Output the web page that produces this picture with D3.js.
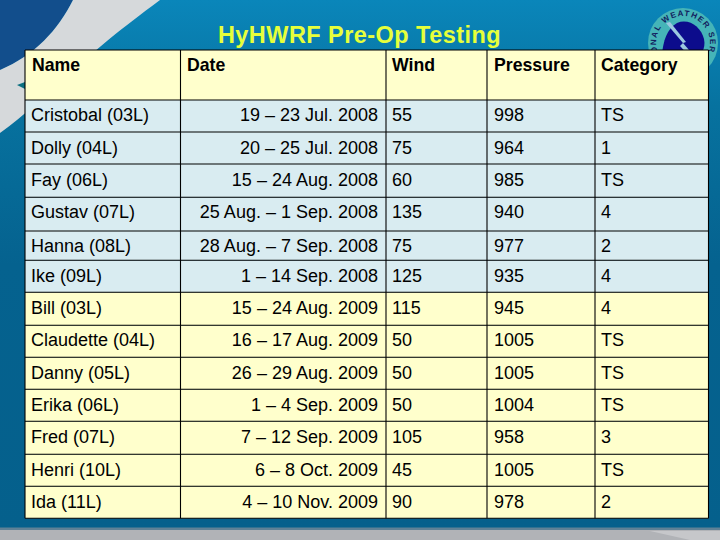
<!DOCTYPE html>
<html><head><meta charset="utf-8">
<script src="https://cdn.jsdelivr.net/npm/d3@7/dist/d3.min.js"></script>
<style>html,body{margin:0;padding:0;background:#fff}svg{display:block}text{font-family:"Liberation Sans",Arial,sans-serif}</style>
</head><body><svg id="c" width="720" height="540"></svg>
<script>
const title = "HyHWRF Pre-Op Testing";
const logoText = "ONAL WEATHER SER";
const columns = ["Name","Date","Wind","Pressure","Category"];
const names = ["Cristobal (03L)","Dolly (04L)","Fay (06L)","Gustav (07L)","Hanna (08L)","Ike (09L)","Bill (03L)","Claudette (04L)","Danny (05L)","Erika (06L)","Fred (07L)","Henri (10L)","Ida (11L)"];
const dates = ["19 – 23 Jul. 2008","20 – 25 Jul. 2008","15 – 24 Aug. 2008","25 Aug. – 1 Sep. 2008","28 Aug. – 7 Sep. 2008","1 – 14 Sep. 2008","15 – 24 Aug. 2009","16 – 17 Aug. 2009","26 – 29 Aug. 2009","1 – 4 Sep. 2009","7 – 12 Sep. 2009","6 – 8 Oct. 2009","4 – 10 Nov. 2009"];
const winds = [55,75,60,135,75,125,115,50,50,50,105,45,90];
const pressures = [998,964,985,940,977,935,945,1005,1005,1004,958,1005,978];
const categories = ["TS","1","TS","4","2","4","4","TS","TS","TS","3","TS","2"];
const years = [2008,2008,2008,2008,2008,2008,2009,2009,2009,2009,2009,2009,2009];

// layout (pixels)
const colEdges = [25,180.5,386,487,595,708.5];
const rowEdges = [50,100,132,164,197.3,231,260.3,292.3,325.3,357.3,389.3,421.3,454.3,486.3,518.3];
const baseline = [71,121,154,186,218,252,282,314,346,379,411,443,476,508];

const svg = d3.select("#c");
const defs = svg.append("defs");
const g = defs.append("linearGradient").attr("id","bg").attr("x1",0).attr("y1",0).attr("x2",0).attr("y2",1);
[[0,"#0a86ba"],[0.2,"#07729f"],[0.5,"#05628f"],[1,"#05608c"]].forEach(d=>g.append("stop").attr("offset",d[0]).attr("stop-color",d[1]));
svg.append("rect").attr("width",720).attr("height",530).attr("fill","url(#bg)");
// top-left artwork
svg.append("path").attr("d","M0,0H73C58,30 35,55 0,70Z").attr("fill","#124e8c");
svg.append("path").attr("d","M73,0H160C120,30 100,45 70,75C45,95 25,115 0,133V70C35,55 58,30 73,0Z").attr("fill","#d6d9db");
svg.append("path").attr("d","M17,85L25,82V89Z").attr("fill","#0b6f80");
// bottom band
svg.append("rect").attr("y",529).attr("width",720).attr("height",11).attr("fill","#b1b3b7");
svg.append("path").attr("d","M650,531H720V540H690Z").attr("fill","#c6c7ca");
svg.append("rect").attr("y",527.5).attr("width",720).attr("height",2.5).attr("fill","#5f8196");

// logo
const lg = svg.append("g").attr("transform","translate(683,43)");
lg.append("circle").attr("r",35).attr("fill","#45b4b8");
lg.append("path").attr("d","M-21,12C-20,-2 -16,-14 -6,-20C6,-25 18,-16 21,-4C23,6 18,12 12,16L-10,20Z").attr("fill","#0c0c8c");
lg.append("path").attr("d","M-17,-20L0,0L3,-1L-13,-21Z").attr("fill","#9cc8e0");
lg.append("path").attr("d","M0,0L12,14L9,16L-3,3Z").attr("fill","#9cc8e0");
defs.append("path").attr("id","arc").attr("d","M0,27A27,27 0 1 1 0,-27A27,27 0 1 1 0,27");
lg.append("text").attr("font-size",8).attr("font-weight","bold").attr("fill","#12205e").attr("letter-spacing",1.3).attr("text-anchor","middle")
  .append("textPath").attr("href","#arc").attr("startOffset","50%").text(logoText);

// title
svg.append("text").attr("x",359.5).attr("y",43).attr("text-anchor","middle").attr("font-size",23.5).attr("letter-spacing",0.45).attr("font-weight","bold").attr("fill","#e6ff3a").text(title);

const rows = names.map((n,i)=>({cells:[n,dates[i],winds[i],pressures[i],categories[i]],year:years[i],i}));
const bandColor = d3.scaleOrdinal().domain([2008,2009]).range(["#d9ecf1","#ffffcc"]);
const tbl = svg.append("g");

// header
columns.forEach((c,j)=>{
  tbl.append("rect").attr("x",colEdges[j]).attr("y",rowEdges[0]).attr("width",colEdges[j+1]-colEdges[j]).attr("height",rowEdges[1]-rowEdges[0]).attr("fill","#ffffcc");
  tbl.append("text").attr("x",[32,187,392,494,601][j]).attr("y",baseline[0]).attr("font-size",17.7).attr("font-weight","bold").attr("fill","#000").text(c);
});
const rg = tbl.selectAll("g.r").data(rows).join("g").attr("class","r");
rg.append("rect").attr("x",colEdges[0]).attr("y",d=>rowEdges[d.i+1]).attr("width",colEdges[5]-colEdges[0]).attr("height",d=>rowEdges[d.i+2]-rowEdges[d.i+1]).attr("fill",d=>bandColor(d.year));
const textX=[31,378,392,494,601];
rg.selectAll("text").data(d=>d.cells.map((v,j)=>({v,j,i:d.i}))).join("text")
  .attr("x",d=>textX[d.j]).attr("y",d=>baseline[d.i+1]).attr("font-size",18).attr("fill","#000")
  .attr("text-anchor",d=>d.j===1?"end":"start").text(d=>d.v);
// grid
rowEdges.forEach(y=>tbl.append("line").attr("x1",colEdges[0]).attr("x2",colEdges[5]).attr("y1",y).attr("y2",y).attr("stroke","#000").attr("stroke-width",1.1));
colEdges.forEach(x=>tbl.append("line").attr("x1",x).attr("x2",x).attr("y1",rowEdges[0]).attr("y2",rowEdges[rowEdges.length-1]).attr("stroke","#000").attr("stroke-width",1.1));
</script></body></html>
